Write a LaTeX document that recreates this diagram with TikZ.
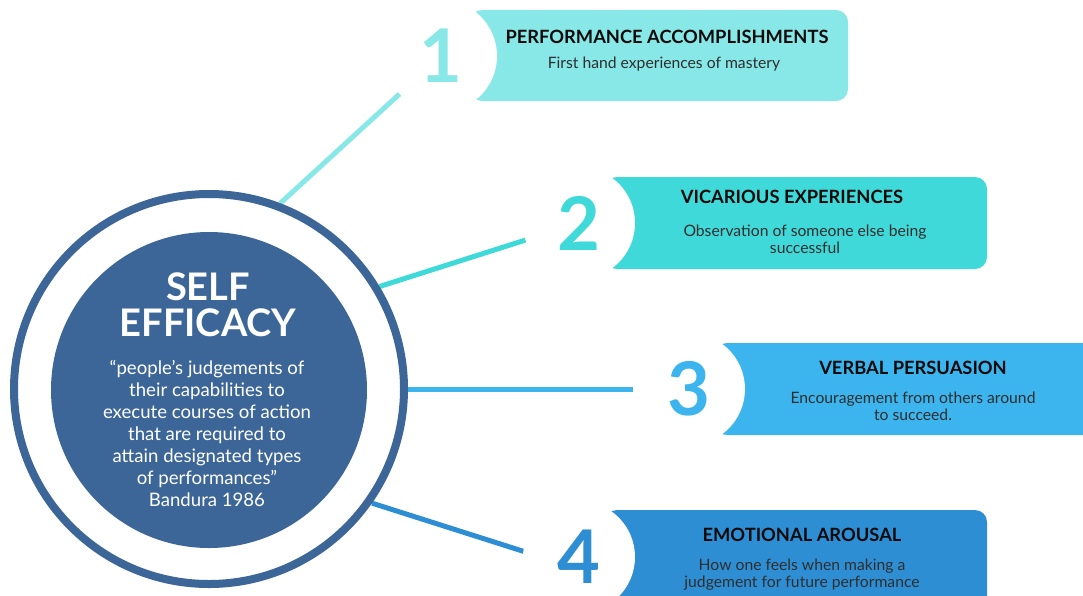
\documentclass[tikz,border=0pt]{standalone}
\usepackage{fontspec}
\setmainfont{Lato}
\usetikzlibrary{backgrounds}
\definecolor{effblue}{HTML}{3D6698}
\definecolor{cA}{HTML}{88E8E8}
\definecolor{cB}{HTML}{40D9D9}
\definecolor{cC}{HTML}{3CB4EE}
\definecolor{cD}{HTML}{2E8ED4}
\definecolor{titleink}{HTML}{0A0A0A}
\definecolor{descink}{HTML}{2E2E2E}
\begin{document}
\begin{tikzpicture}[x=1pt,y=-1pt,
  conn/.style={line width=5pt},
  card/.style={rectangle, rounded corners=12pt, inner sep=0pt},
  badge/.style={circle, fill=white, minimum size=112pt, inner sep=0pt},
  digit/.style={inner sep=0pt, font=\bfseries\fontsize{74}{74}\selectfont},
  head/.style={font=\bfseries\fontsize{18.3}{20}\selectfont, text=titleink},
  desc/.style={font=\fontsize{15.7}{17}\selectfont, text=descink, align=center},
  bigtitle/.style={font=\bfseries\fontsize{38}{36}\selectfont, text=white},
  quote/.style={font=\fontsize{18.6}{22}\selectfont, text=white, align=center}]
\useasboundingbox (0,0) rectangle (1083,595);

% central self-efficacy disc with its outer ring
\node[circle, draw=effblue, line width=8pt, minimum size=390pt, inner sep=0pt] (ring) at (209,389) {};
\node[circle, fill=effblue, minimum size=316pt, inner sep=0pt] (core) at (209,390) {};
\node[bigtitle] (self) at (208,287) {SELF};
\node[bigtitle] (efficacy) at (208,323) {EFFICACY};
\node[quote] (def) at (207,433) {“people’s judgements of\\their capabilities to\\execute courses of action\\that are required to\\attain designated types\\of performances"\\Bandura 1986};

% white badges that notch the cards, with their numbers
\node[badge] (n1) at (441,56) {};
\node[badge] (n2) at (579,223) {};
\node[badge] (n3) at (689,389) {};
\node[badge] (n4) at (579,557) {};
\node[digit, text=cA] (k1) at (n1) {1};
\node[digit, text=cB] (k2) at (n2) {2};
\node[digit, text=cC] (k3) at (n3) {3};
\node[digit, text=cD] (k4) at (n4) {4};

% cards and connectors sit behind the badges
\begin{pgfonlayer}{background}
  \fill[white] (0,0) rectangle (1083,595);
  \node[card, fill=cA, minimum width=378pt, minimum height=91pt] (card1) at (659,55.5) {};
  \node[card, fill=cB, minimum width=382pt, minimum height=92pt] (card2) at (796,223) {};
  \node[card, fill=cC, minimum width=385pt, minimum height=92pt] (card3) at (907.5,389) {};
  \node[card, fill=cD, minimum width=382pt, minimum height=100pt] (card4) at (796,560) {};
  \draw[conn, cA] (ring.69) -- (n1);
  \draw[conn, cB] (ring.31) -- (n2);
  \draw[conn, cC] (ring.0) -- (n3);
  \draw[conn, cD] (ring.-35) -- ([yshift=-12pt]n4.center);
\end{pgfonlayer}

% card texts
\node[head] (t1) at (667,37) {PERFORMANCE ACCOMPLISHMENTS};
\node[desc] (d1) at (664,64) {First hand experiences of mastery};
\node[head] (t2) at (792,197) {VICARIOUS EXPERIENCES};
\node[desc] (d2) at (805,239.5) {Observation of someone else being\\successful};
\node[head] (t3) at (913,368) {VERBAL PERSUASION};
\node[desc] (d3) at (913,406.5) {Encouragement from others around\\to succeed.};
\node[head] (t4) at (802,535) {EMOTIONAL AROUSAL};
\node[desc] (d4) at (802,574.5) {How one feels when making a\\judgement for future performance};
\end{tikzpicture}
\end{document}
